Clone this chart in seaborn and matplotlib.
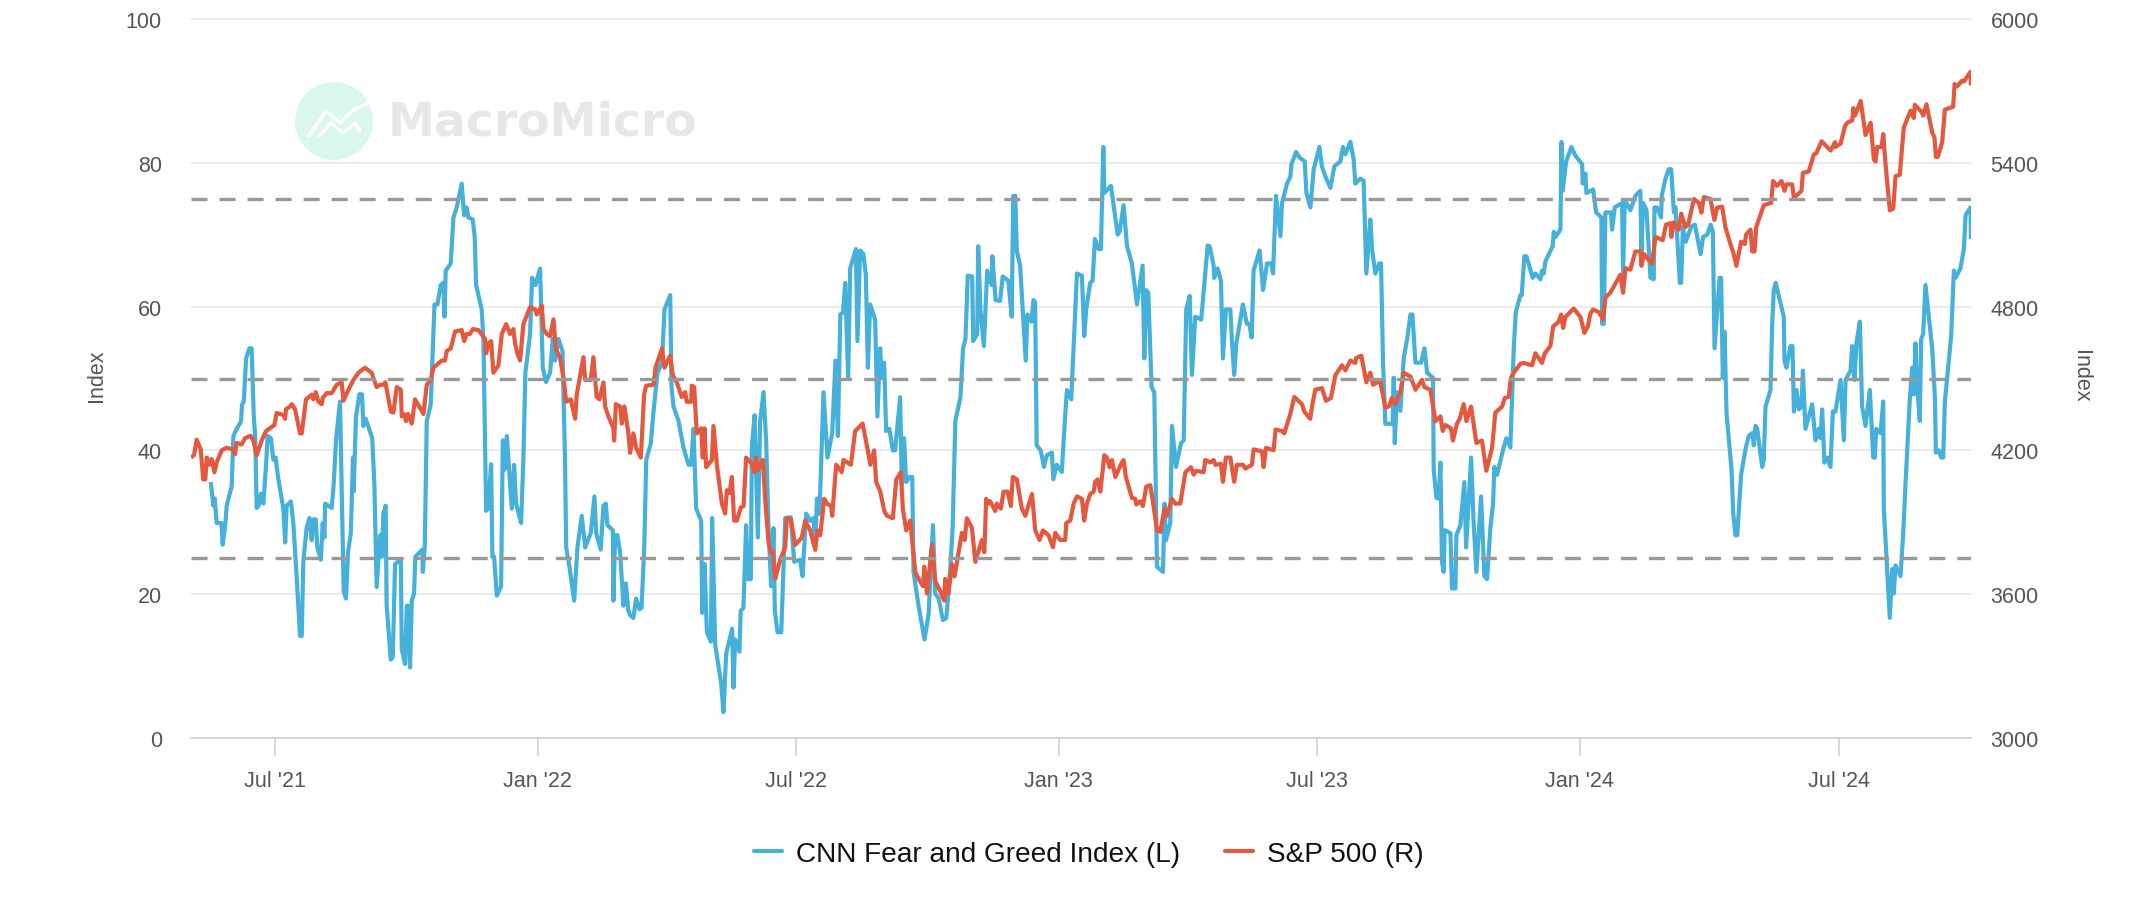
import numpy as np
import pandas as pd
import matplotlib
matplotlib.use("Agg")
import matplotlib.pyplot as plt
from matplotlib.lines import Line2D
from matplotlib.patches import Ellipse
import seaborn as sns

start_date = "2021-05-03"
tick_dates = ["2021-07-01", "2022-01-01", "2022-07-01", "2023-01-01", "2023-07-01", "2024-01-01", "2024-07-01"]
tick_labels = ["Jul '21", "Jan '22", "Jul '22", "Jan '23", "Jul '23", "Jan '24", "Jul '24"]
left_ticks = [0, 20, 40, 60, 80, 100]
right_ticks = [3000, 3600, 4200, 4800, 5400, 6000]
thresholds = [25, 50, 75]

fg_days = [13.8,15.7,16.6,18,21.3,22.2,24,25,28.5,29.7,32,35,35.8,37,38.6,40.9,42.5,44,45,46,47.4,49,50.7,52.6,53.7,56,57.7,59.3,61,64.7,66,67,70,71.7,74,76.4,77.6,78.7,81,83,84.6,85.7,87.4,88.5,91,92.3,93.5,94,98.6,100,101.6,104.4,107,108.6,110,112,113.5,114,115.6,118,119.8,120.8,122.4,127,128.5,
130.1,132.5,133.6,134.8,136.4,137.1,140,141.4,143,147,147.7,150,151.2,152.1,153.5,154.7,156.3,157.2,162.1,162.4,163.8,165.2,168,170.6,172.7,175,176.9,177.6,178.5,182,183.9,186.2,189.7,191.4,193.2,194.4,197.4,198.8,199.8,203.7,204.9,206.8,208.2,210.3,211.2,212.4,214.3,217.3,218.5,219.6,221.3,224.8,226.4,227.8,231.3,232.9,234.3,237.6,239,241.4,244.6,246.5,248.8,251.6,253.5,255.1,257.5,260.3,262.1,262.9,265.2,268.5,270.8,273.8,276.2,280.1,282.7,283.9,287.1,289,290.7,291.8,295.6,296,297.2,298.8,300.7,303,304.7,306.5,307.7,
310,311.9,314.3,315.7,317.6,319,322.2,324.1,326.9,330,331.8,335.8,336.7,338.1,341.6,345.1,348.6,350.5,352.1,354,357.5,358.2,359.9,361.5,364.3,365.2,367.3,371.5,373.1,375,379.2,380.1,381.3,384.3,385.2,387.1,389,390.4,392.3,393,394.9,397.2,398.8,401.2,403,404.7,406.5,408.2,409.1,411,413.6,416.4,420.3,422.7,426.8,428.5,431.1,433.9,436.2,437.4,438.6,440.4,443.2,446,449.3,451.6,453.3,455,456.9,458.4,460.5,461.9,465.9,467,468.9,471.2,472.9,474.3,475.9,479.4,481,482.9,484,485.7,487.1,489.4,491.8,493.4,496.9,498.1,499.7,501.1,503.5,505.4,506.3,509.8,514,516.8,519.9,521.5,523.9,526.9,529.3,532.1,533.7,535.6,539.2,541,542.7,544.3,547.4,548.1,550.9,551.6,553.2,555.6,557.9,561,561.5,563.8,566.9,568.8,572.7,575.1,576.2,577.6,578.7,581,584.9,586.1,588.9,590.3,591.5,592.6,595.4,597.7,599.6,603.2,604.3,606.7,610.2,612.5,
613.8,616.8,618.9,620.8,624.3,625.9,627.3,630.1,631.8,633.4,636,637.6,639.3,640,644.6,647.7,649.3,650.7,653.5,655.9,659.3,662.9,666.8,668,669.4,670.8,673.1,675,676.9,681.1,682.2,683.2,686.2,687.4,690.2,693.7,695.6,697.4,699.8,701.4,703.7,707.9,712.4,713.8,716.6,717,719.4,721.7,723.1,725.2,728.3,729.4,731,732.5,737.1,739.9,741.6,743.2,744.6,748.8,751.2,754,756.8,758.2,760.3,763.4,764.5,768,770.4,771.1,774.4,776.9,780.4,781.6,784.4,786.7,790.7,792.5,794.9,798.4,801.2,805.4,807.2,808.9,812.4,814.7,815.9,819.4,821.7,823.6,826.4,827.6,829.9,832.7,833.9,835.3,836.9,842,842.8,843.5,845.1,847.4,849.8,852.2,854.5,855.9,858,862,864.3,866.2,870.3,870.8,872.7,874.3,875.5,876.6,877.8,878.5,882.5,883.6,886,886.7,889.5,892.3,893.5,897,898.8,900.7,904,906.3,908.2,910.5,912.4,913.3,915.2,919.8,921.7,924.5,
926.9,928.3,931.5,932.5,934.3,935.8,940.2,942.1,945.6,946.7,947.9,949.1,954.2,954.9,956.1,959.6,960.3,961.2,963.6,967.3,970.1,974.8,975.2,977.1,977.8,982.5,984.6,988.3,988.8,990,991.1,995.1,995.8,997.7,1002.8,1003.5,1004.7,1008.6,1012.1,1015.6,1016.4,1017.5,1019.9,1022.7,1025,1025.5,1027.3,1030.1,1030.6,1033.2,1035.5,1037.2,1039.1,1040.2,1043.3,1044.2,1045.4,1047.4,1051.2,1053.8,1057.8,1059.6,1062.5,1064.8,1066.4,1067.6,1071.1,1072.2,1073.4,1074.6,1076,1079.5,1080.7,1082.3,1083.5,1086.2,1089.5,1091.6,1094,1095.1,1096.3,1097.5,1101,1102.1,1103.3,1106.8,1108,1109.1,1110.5,1113.3,1116.1,1116.6,1118,1120.8,1122.2,1123.2,1125,1126.7,1128.5,1129.5,1131.3,1136,1138.3,1140.7,1141.8,1143,1144.6,1146.5,1148.8,1150.5,1152.3,1155.9,1158.2,1159.4,1162.9,1164,1165.7,1167,1169.4,1171,1173.4,1176.4,1178.8,1179.9,1180.9,1183.9,1185.8,1186.2,1188.6,1190.4,1192.1,1193.2,1194.4,1197.9,1199.8,1201.4,1204.4,1206.1,1207.2,1208.4,1209.6,1211.4,1212.4,1213.8,1215.4,1220.1,1222,1222.7,1224.8,1226.4,1227.8,1229,1233.4,1235.3,1236.4,1239.9,1242.3,1243.5,1247,1247.2]
fg_values = [35.6,32.3,33.3,29.9,29.9,26.9,29.6,32.3,35,42,43,44,46.4,46.8,52.8,54.2,54.2,44.7,42,32,32.3,34,32.6,38,42,41.7,38.7,39,36.3,31.9,27.2,32.3,32.9,29.9,22.5,14.2,14.2,24.5,29.2,30.6,27.5,30.4,30.4,26.5,24.8,29.9,27.9,32.6,32,35.3,41.4,46.8,20.4,19.4,25.8,28.5,39,34.3,44.7,47.8,47.8,43.4,44.4,41.7,35.3,
21,28.2,25.2,31.2,32.3,18.4,10.9,11.3,24.2,24.8,12.3,10.3,18.4,18.4,9.8,19.1,20.1,25.2,26.2,23.1,26.5,44.1,46.4,60.3,60.3,63,63.3,58.6,65,66,72.4,73.8,77.1,72.7,73.8,72.4,72.1,69.7,63,59.6,55.5,31.6,31.9,38.1,25.2,25.2,19.8,21.1,41.4,37.3,42,31.9,38,32.6,29.9,38.7,50.8,56.2,64,63,65.3,51.5,49.5,50.8,55.5,52.5,55.5,53.8,38.7,26.5,23.8,19.1,26.5,30.9,26.5,28.5,33.6,28.5,26.2,32.3,32.6,29.6,28.9,19.1,28.2,28.2,25.8,18.4,21.5,17.7,17.1,
16.7,19.4,17.9,18.1,26.5,38.7,41,45.4,50.8,52.2,59.6,61.6,48.8,46.1,44.1,40.4,38,38,43,31.9,30.2,17.4,24.2,14.7,13.4,30.6,13,7.6,3.6,11.7,15.2,7,13.7,12,17.7,18.1,29.6,22.1,22.1,40.4,44.9,27.9,44.1,48.1,41.4,29.2,21.1,29.2,17.7,14.7,14.7,30.6,30.7,24.5,24.8,22.5,31.2,30.2,30.6,26.5,33.3,31.2,48.1,39,42.4,52.5,42,58.9,59.2,63.3,50.1,65.3,68,55.2,67.8,67.3,64.3,51.5,60.3,58.2,44.7,54.2,50.1,52.2,42.7,43,40,40,47.4,35.3,41.7,35.6,36.3,36.3,23.1,18.4,13.7,17.1,29.6,20.1,19.4,16.4,16.7,23.8,29.2,44.1,47.4,54.2,55.5,64.3,64.2,55.2,56.2,68.4,59.6,54.5,65,63,67,60.9,60.8,64.2,63.6,58.6,75.4,75.4,67.7,65.7,52.5,58.9,57.9,60.9,60.6,40.7,40,37.7,39.3,39.7,36,38,37,44.7,
48.4,47.1,56.2,64.6,64.3,55.9,59.6,63.3,63.6,69.4,68,68,82.2,75.8,76.8,72.4,70,70.4,74.1,68.4,66,60.3,65.7,52.8,62.3,61.9,48.8,48.1,23.8,23.1,32.6,27.5,29.9,43.4,37.7,41,41.4,59.6,61.5,50.5,58.6,58.2,68.5,68.4,65.7,64,65.3,63.6,52.8,59.6,59.6,55.2,50.5,54.9,60.3,57.6,57.6,55.7,65,67.8,62.3,66,66,64.6,75.4,69.8,74.4,77.1,78.1,79.8,81.5,80.7,80.2,75.8,73.8,79.1,82.2,79.5,78.1,76.5,79.5,80.2,82.2,81.2,82.9,80.5,77.1,77.8,77.5,64.6,72.1,68,64.6,66,66,52.2,43.7,43.7,50.1,41,48.1,45.5,52.8,55.5,58.9,58.9,52.2,52.2,54.2,50.8,50.1,37.3,33.4,33.3,38.3,24.5,23.1,28.9,28.5,20.8,20.8,28.2,29.6,35.6,26.5,39,29.9,23.1,33.6,22.5,22.1,29.2,32.6,37.7,36.6,40.4,41.7,40.4,
54.2,59.2,61.6,61.6,67,67,64,64.6,63.8,65,64.6,66.3,68.4,70.4,69.7,70.7,82.9,76.1,80.2,82.2,81,79.8,77.1,78.5,75.8,76.3,73.1,72.4,57.6,57.6,73.1,73.1,70.7,73.8,74.4,64.3,74.8,73.4,75.4,76.1,67.7,74.4,73.4,64,63.8,73.8,73.8,72.4,75.4,77.8,79.1,79.1,73.1,73.8,63.3,63.3,71.1,69,71.1,71.4,67.3,69.7,70,71.4,70.4,54.2,64,64,50.1,56.5,45.1,37.3,31.2,28.2,28.2,36.6,40.4,42,42.4,40.7,43.4,43,37.7,38.7,46.1,48.4,57.6,62.3,63.3,60.9,58.6,52.5,51.5,54.5,54.5,45.4,48.4,45.7,46.1,51.1,43,46.4,41.4,43,41.7,45.7,38.3,39,37.7,45.4,45.4,49.8,41.4,49.8,51.1,54.5,49.8,54.9,57.9,46.1,43.4,48.4,39,39,43,42.4,46.8,31.9,23.1,16.7,23.5,20.1,24,22.5,28.5,35.3,47.1,51.5,47.8,54.9,48.8,44.1,55.5,56.2,63,54.2,47.4,39.7,40,39,39,46.8,55.9,65,64,65.3,68,72.7,73.8,69.4]

spx_days = [0,2.1,4,6.8,8.6,10,11,12.9,14.5,16.4,18,21.5,25,29.7,30.8,32,35.5,37.9,41.8,43.7,46,49.5,52.6,58.4,60,64.7,65.9,66.6,69.4,70.6,72.9,76.4,77.6,80.6,84.6,85.7,87.4,89.3,91.6,92.3,95.1,98.6,102.1,105.6,106.8,110.3,113.8,116.1,117.3,121.9,126.6,130.1,132.5,134.8,136.2,140,141.8,144.2,147,147.7,149.3,150.7,152.1,154.7,157,162.9,165.2,168,169.9,175.7,178,179.2,182,185,189.7,191.4,193.2,195.6,197.4,201.4,206,206.8,208.4,210.3,211.9,215.4,217.8,220.8,223.6,225.9,227.1,228.7,230.6,232.9,237.6,241.1,242.3,245.8,247,249.3,251.6,254,255.6,258.6,261,262.9,266.1,269.2,270.3,275,276.2,280.1,282,283.2,284.3,286.2,289,290.2,292.5,296,296.5,297.7,300.7,301.9,303.7,306.5,307.7,
310,311.9,315.2,317.5,318.9,324.1,325.5,330,331.8,335.7,337.6,340.4,343.9,346.3,347.4,350.5,350.9,352.6,354.4,357.5,358.6,359.8,361,365,366.1,368.5,372,374.3,375.5,377.4,379,380.6,382.5,385.3,387.2,389,393,394.9,396,397.2,400.7,402.3,404.7,406.3,407.7,409.4,412.9,416.4,417.5,420.3,423.4,428,430.4,433.9,437.4,439,440.9,443.7,445.6,448.6,449.3,452.1,456,457.2,462.4,465.4,470.6,473.6,476,478.7,480.1,483,485.8,487.7,491.8,494.2,497.4,498.8,501.2,504,507.5,509.8,512.9,513.8,515.7,519.2,521.5,525,527.8,528.5,530.8,533.2,535,540.2,542.1,543.7,547.2,549.6,554.2,555.9,557.2,558.9,560,563.5,564.7,567.5,569.4,572.2,574.5,575.9,578.7,582.2,584.6,589.3,591.6,594.6,597,600.9,604,605.6,609.1,612.6,613.3,616.1,
618.5,620.8,624.3,625.9,627.8,630.1,632.5,633.6,635.3,637.2,640,641.8,643.7,645.3,647.7,652.3,653.5,655.1,659.3,661.7,662.4,665.2,667,669.4,672.2,674.5,676.9,679.2,682.2,683.9,687.4,689.7,693.2,696.8,700.7,702.6,704.4,709.6,710.7,714.3,716.6,717.8,721.7,723.1,725.2,728.3,731,732.9,737.1,738.8,743.4,744.6,750.5,751.6,753.3,758.6,760,764.5,766.1,770.3,773.1,778.5,780.1,784.3,785.5,787.8,792.5,795.3,798.8,801.9,806.5,808.9,812.4,815.9,816.4,820.1,823.6,826.4,828.3,831.1,833.4,836.9,839.3,841.6,843.9,847.4,849.8,854.5,858,862.6,864.3,868.5,872,875.5,877.1,879,882.9,884.3,887.1,889,891.8,893.7,897,900.7,904.6,907.7,911.7,914,918.7,920.6,923.4,924.5,
925,926.9,931.5,933.9,939.7,942.1,946.7,948.6,952.6,954.5,958.4,960.1,961.5,963.1,968.9,973.6,976.4,978.8,980.6,982.5,986.5,989.5,991.1,994.6,999.3,1001.6,1003.5,1005.2,1008.6,1012.1,1015.7,1016.4,1018,1021.5,1023.8,1026.2,1031.3,1033.6,1036.7,1037.4,1039,1042.5,1044.2,1047.2,1049.1,1053.1,1056.6,1058.4,1060.1,1064.7,1067.5,1069.4,1072.9,1075.2,1078.7,1081,1082.9,1086.2,1088.8,1089.7,1092.8,1094,1095.6,1096.8,1102.1,1107.3,1108.6,1111.4,1114.5,1116.6,1118,1122,1123.2,1128.5,1129.5,1133.6,1137.2,1138.8,1142.6,1148.9,1152,1152.4,1155.9,1159,1160.6,1164.1,1164.8,1166,1170,1173.4,1177,1179.2,1180.4,1181.6,1184.6,1185.8,1187.4,1190.4,1192.8,1194.4,1197.4,1200.2,1204.9,1207.2,1207.9,1212.6,1213.8,1216.1,1220.1,1221.7,1222.7,1224.1,1227.1,1229,1234.8,1235.8,1237.6,1241.1,1242.3,1247,1247.2]
spx_values = [4170,4180,4245,4204,4079,4079,4170,4140,4164,4109,4150,4200,4211,4204,4184,4231,4225,4251,4261,4241,4180,4241,4281,4306,4356,4348,4332,4372,4383,4393,4372,4271,4271,4413,4433,4413,4443,4403,4393,4419,4439,4439,4474,4484,4407,4453,4494,4514,4524,4545,4524,4464,4474,4474,4484,4362,4358,4464,4453,4342,4352,4322,4352,4312,4413,4352,4474,4494,4545,4575,4575,4615,4625,4696,4702,4656,4686,4686,4706,4702,4666,4605,4646,4656,4524,4555,4686,4727,4686,4706,4646,4605,4575,4727,4798,4788,4767,4804,4706,4686,4676,4747,4625,4585,4504,4403,4413,4332,4433,4589,4494,4494,4589,4494,4423,4413,4484,4383,4342,4292,4241,4393,4383,4312,4383,4271,4190,
4271,4211,4170,4433,4470,4474,4545,4625,4545,4595,4514,4484,4423,4443,4403,4403,4470,4464,4271,4292,4170,4292,4130,4160,4302,4140,3978,3937,4034,4022,4089,3907,3907,3962,3968,4170,4144,4109,4170,4119,4160,3998,3816,3775,3775,3664,3745,3796,3917,3913,3806,3836,3907,3866,3785,3866,3846,3998,3978,3968,3927,4140,4109,4160,4140,4281,4312,4221,4140,4200,4069,4028,3947,3927,3917,4079,4109,3957,3866,3907,3694,3664,3634,3715,3603,3806,3654,3613,3573,3664,3603,3725,3674,3856,3826,3917,3877,3735,3826,3775,3998,3978,3988,3947,3978,3957,4028,4028,3968,4089,4079,3957,3927,4018,3866,3826,3866,3846,3796,3856,3826,3826,3897,3907,
3978,4008,3998,3907,3978,4018,4028,4069,4079,4028,4180,4170,4130,4160,4089,4150,4160,4089,4002,3998,3974,3988,3968,4049,4055,3968,3866,3860,3957,3927,3998,3978,3978,4109,4130,4099,4115,4109,4160,4150,4160,4140,4144,4069,4170,4170,4069,4140,4140,4124,4140,4204,4196,4130,4211,4200,4287,4281,4271,4352,4423,4393,4362,4332,4383,4453,4460,4407,4419,4514,4555,4534,4575,4565,4585,4595,4484,4524,4474,4484,4484,4379,4383,4419,4393,4443,4524,4508,4453,4494,4464,4453,4322,4342,4281,4306,4292,4241,4312,4332,4393,4322,4383,4231,4241,4115,4211,4358,4383,4419,4423,4484,
4504,4524,4561,4565,4555,4605,4565,4605,4636,4717,4737,4767,4711,4757,4792,4757,4690,4717,4771,4788,4777,4747,4838,4858,4909,4933,4858,4960,4954,5030,5030,4970,5020,4994,4980,5091,5077,5142,5148,5091,5152,5121,5188,5132,5142,5249,5233,5192,5257,5249,5162,5213,5217,5132,5061,5020,4970,5071,5061,5101,5121,5030,5030,5132,5223,5233,5324,5304,5324,5283,5310,5310,5253,5283,5358,5364,5435,5439,5490,5451,5486,5466,5480,5553,5567,5577,5628,5597,5658,5516,5567,5415,5405,5466,5466,5520,5395,5202,5209,5344,5350,5547,5617,5587,5642,5613,5597,5644,5526,5506,5425,5425,5486,5622,5634,5729,5719,5743,5739,5780,5723]

BLUE = "#45b1da"
RED = "#e4583f"
TEXT = "#555555"
t0 = pd.Timestamp(start_date)
fg = pd.DataFrame({"date": t0 + pd.to_timedelta(fg_days, unit="D"), "v": fg_values})
spx = pd.DataFrame({"date": t0 + pd.to_timedelta(spx_days, unit="D"), "v": spx_values})

sns.set_theme(style="white")
plt.rcParams["font.family"] = ["Liberation Sans", "DejaVu Sans"]

W, H = 2140, 920
fig = plt.figure(figsize=(W / 100, H / 100), dpi=100, facecolor="white")
rect = [191 / W, 1 - 739 / H, (1971 - 191) / W, (739 - 20) / H]
ax = fig.add_axes(rect)
ax2 = ax.twinx()

sns.lineplot(data=fg, x="date", y="v", ax=ax, color=BLUE, lw=3.0, estimator=None, sort=False, legend=False)
sns.lineplot(data=spx, x="date", y="v", ax=ax2, color=RED, lw=3.0, estimator=None, sort=False, legend=False)
for a in (ax, ax2):
    for l in a.lines:
        l.set_solid_joinstyle("round")
        l.set_solid_capstyle("butt")

xlim = (t0, t0 + pd.Timedelta(days=1247.3))
ax.set_xlim(xlim)
ax.set_ylim(0, 100)
ax2.set_ylim(3000, 6000)
ax.set_xticks(pd.to_datetime(tick_dates))
ax.set_xticklabels(tick_labels)
ax.set_yticks(left_ticks)
ax2.set_yticks(right_ticks)
ax.grid(axis="y", color="#e6e6e6", lw=1.1)
ax.grid(axis="x", visible=False)
ax2.grid(False)
ax.set_axisbelow(True)
for a in (ax, ax2):
    for s in a.spines.values():
        s.set_visible(False)
ax.spines["bottom"].set_visible(True)
ax.spines["bottom"].set_color("#cfd2d6")
ax.spines["bottom"].set_linewidth(1.2)
for gl in ax.get_ygridlines():
    gl.set_clip_on(False)
ax.tick_params(axis="x", bottom=True, direction="out", length=13, width=1.2, color="#cfd2d6", labelsize=15.5, labelcolor=TEXT, pad=10)
ax.tick_params(axis="y", length=0, labelsize=15.5, labelcolor=TEXT, pad=21)
ax2.tick_params(axis="y", length=0, labelsize=15.5, labelcolor=TEXT, pad=14)
ax.set_xlabel("")
ax.set_ylabel("Index", fontsize=15.5, color=TEXT)
ax2.set_ylabel("Index", fontsize=15.5, color=TEXT, rotation=270)
ax.yaxis.set_label_coords((107 - 191) / (1971 - 191), 0.505)
ax2.yaxis.set_label_coords((2091 - 191) / (1971 - 191), 0.505)

# threshold lines above both series
ax3 = fig.add_axes(rect, sharex=ax)
ax3.set_ylim(0, 100)
ax3.axis("off")
ax3.patch.set_alpha(0)
for t in thresholds:
    ax3.axhline(t, color="#999999", lw=2.4, linestyle=(0, (16 / 3.33, 12 / 3.33)), dash_capstyle="butt")

# watermark
wm = fig.add_axes([0, 0, 1, 1], zorder=-1)
wm.set_xlim(0, W)
wm.set_ylim(H, 0)
wm.axis("off")
wm.add_patch(Ellipse((334, 122), 78, 78, color="#d9f7ef", lw=0))
wm.plot([309, 326, 340, 352, 368], [137, 112, 124, 112, 104], color="white", lw=2.6)
wm.plot([319, 331, 343, 355, 360], [137, 124, 134, 124, 132], color="white", lw=2.4)
wm.text(388, 123, "MacroMicro", fontsize=34, fontweight="bold", color="#e6e7e9",
        va="center", ha="left", family=["DejaVu Sans"])
ax.patch.set_alpha(0)
ax2.patch.set_alpha(0)
fig.patch.set_facecolor("white")

handles = [Line2D([], [], color=BLUE, lw=3), Line2D([], [], color=RED, lw=3)]
fig.legend(handles, ["CNN Fear and Greed Index (L)", "S&P 500 (R)"], loc="center", ncol=2,
           bbox_to_anchor=(1089 / W, 1 - 855 / H), frameon=False, fontsize=20.2, labelcolor="#111111",
           handlelength=1.0, handletextpad=0.5, columnspacing=1.6)

fig.savefig("out.png", dpi=100, facecolor="white")
